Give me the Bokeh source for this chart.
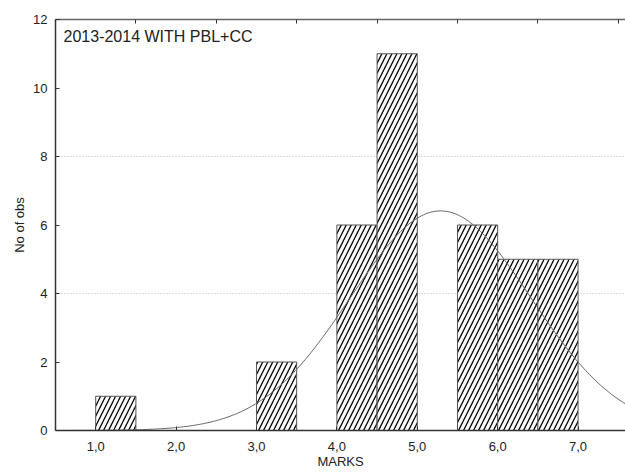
import numpy as np
from bokeh.plotting import figure
from bokeh.models import (Range1d, LinearAxis, FixedTicker, Label, ColumnDataSource)
from bokeh.embed import file_html
from bokeh.resources import INLINE

# ---- data ----
bin_centers = [1.25, 3.25, 4.25, 4.75, 5.75, 6.25, 6.75]
counts = [1, 2, 6, 11, 6, 5, 5]
bin_width = 0.5
x_ticks = [1, 2, 3, 4, 5, 6, 7]
x_tick_labels = ["1,0", "2,0", "3,0", "4,0", "5,0", "6,0", "7,0"]
top_ticks = [1.5, 2.5, 3.5, 4.5, 5.5, 6.5, 7.5]
y_ticks = [0, 2, 4, 6, 8, 10, 12]
# fitted normal curve parameters
fit_mean = 5.29
fit_sd = 1.12
n_obs = 36

FONT = "Liberation Sans"
TXT = "#222222"

p = figure(width=625, height=472, output_backend="svg", toolbar_location=None,
           x_range=Range1d(0.5, 7.59), y_range=Range1d(0, 12),
           min_border_left=55, min_border_right=0, min_border_top=19, min_border_bottom=42)
p.outline_line_color = None
p.background_fill_color = "white"
p.border_fill_color = "white"

# bars
src = ColumnDataSource(dict(x=bin_centers, top=counts))
p.vbar(x="x", top="top", bottom=0, width=bin_width, source=src,
       fill_color="white", line_color="#555555", line_width=1,
       hatch_pattern="/", hatch_color="black", hatch_weight=1.3, hatch_scale=10)

# normal fit curve
xs = np.linspace(0.5, 7.59, 300)
ys = n_obs * bin_width / (fit_sd * np.sqrt(2 * np.pi)) * np.exp(-0.5 * ((xs - fit_mean) / fit_sd) ** 2)
p.line(xs, ys, line_color="#666666", line_width=1)

# axes
for ax in (p.xaxis[0], p.yaxis[0]):
    ax.major_tick_in = 4
    ax.major_tick_out = 0
    ax.minor_tick_line_color = None
    ax.axis_line_color = "#333333"
    ax.axis_line_width = 1.5
    ax.major_tick_line_color = "#333333"
    ax.major_label_text_font = FONT
    ax.major_label_text_font_size = "13px"
    ax.major_label_text_color = TXT
    ax.axis_label_text_font = FONT
    ax.axis_label_text_font_size = "13px"
    ax.axis_label_text_font_style = "normal"
    ax.axis_label_text_color = TXT

p.xaxis.ticker = FixedTicker(ticks=x_ticks)
p.xaxis.major_label_overrides = {t: l for t, l in zip(x_ticks, x_tick_labels)}
p.xaxis.axis_label = "MARKS"
p.xaxis.axis_label_standoff = 0
p.xaxis.major_label_standoff = 11
p.yaxis.ticker = FixedTicker(ticks=y_ticks)
p.yaxis.axis_label = "No of obs"
p.yaxis.axis_label_standoff = 3
p.yaxis.major_label_standoff = 8

top_ax = LinearAxis(ticker=FixedTicker(ticks=top_ticks))
top_ax.major_tick_in = 4
top_ax.major_tick_out = 0
top_ax.minor_tick_line_color = None
top_ax.axis_line_color = "#666666"
top_ax.axis_line_width = 1.5
top_ax.major_tick_line_color = "#333333"
top_ax.major_label_text_color = None
top_ax.major_label_text_font_size = "2px"
p.add_layout(top_ax, "above")

# grid
p.xgrid.grid_line_color = None
p.ygrid.ticker = FixedTicker(ticks=[4, 8])
p.ygrid.grid_line_color = "#bbbbbb"
p.ygrid.grid_line_dash = "1 2"
p.ygrid.grid_line_width = 1

p.add_layout(Label(x=0.6, y=11.5, text="2013-2014 WITH PBL+CC", text_font=FONT,
                   text_font_size="16px", text_color=TXT, text_baseline="middle"))

open("out.html", "w").write(file_html(p, INLINE))
